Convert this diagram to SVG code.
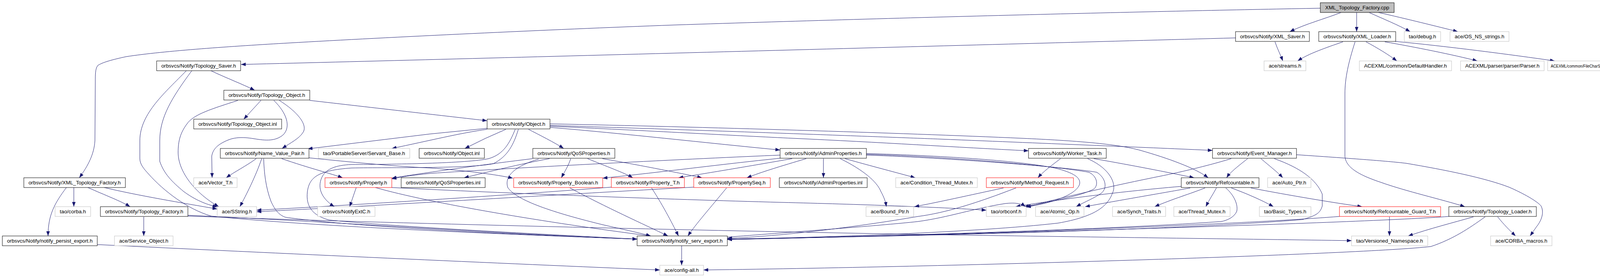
<svg xmlns="http://www.w3.org/2000/svg" width="4221" height="709" viewBox="0 0 4221 709">
<style>
.node rect{fill:#fff;stroke:#000;stroke-width:1}
.node.g rect{stroke:#bfbfbf}
.node.r rect{stroke:#f00}
.node.root rect{fill:#bfbfbf}
.node text{font-family:"Liberation Sans",Arial,sans-serif;font-size:13px;text-anchor:middle;fill:#000}
.node text.ls{text-anchor:start;font-size:11.5px}
#edges path{fill:none;stroke:#191970;stroke-width:1;marker-end:url(#arr)}
</style>
<defs>
<marker id="arr" markerUnits="userSpaceOnUse" markerWidth="12" markerHeight="9" refX="12" refY="4.5" orient="auto"><path d="M0,0 L12,4.5 L0,9 z" fill="#191970"/></marker>
</defs>
<rect width="4221" height="709" fill="#fff"/>
<g id="edges">
<path d="M3380,21 C3000,28 2400,42 1725,64 C1400,76 1000,95 740,110 C600,118 420,130 323,145 C290,152 260,160 250,168 C244,176 244,190 244,210 L243,360 C241,395 225,425 203,455"/>
<path d="M3433,32 C3395,47 3340,62 3302,81"/>
<path d="M3473,32 L3473,81"/>
<path d="M3505,32 C3540,48 3580,64 3610,81"/>
<path d="M3529,32 C3600,48 3680,68 3732,81"/>
<path d="M3163,97 C2500,115 1300,148 617,165"/>
<path d="M3264,107 C3270,125 3278,140 3284,156"/>
<path d="M3438,107 C3395,122 3350,137 3322,156"/>
<path d="M3497,107 C3525,122 3555,140 3576,156"/>
<path d="M3545,107 C3620,120 3720,140 3782,156"/>
<path d="M3572,106 C3700,118 3870,140 3980,156"/>
<path d="M3469,107 C3452,160 3443,200 3443,240 L3443,400 C3445,425 3470,445 3533,466 C3600,490 3690,510 3750,529"/>
<path d="M540,181 C580,200 620,215 652,231"/>
<path d="M477,181 C425,235 358,290 358,360 L358,406 C358,420 368,432 380,445 C420,490 480,535 540,553 C800,580 1300,600 1631,612"/>
<path d="M491,181 C440,250 409,300 409,360 L409,413 C420,445 440,465 470,490 C500,512 525,522 556,530"/>
<path d="M609,257 C545,278 495,292 478,318 C462,340 456,360 456,390 C456,440 500,495 560,529"/>
<path d="M668,257 L624,305"/>
<path d="M701,257 C735,290 745,325 725,345 C705,362 680,360 650,355 C620,350 600,352 585,358 C560,368 545,380 542,400 L543,455"/>
<path d="M715,257 C760,285 790,320 775,340 C765,355 745,365 722,380"/>
<path d="M793,257 C950,275 1150,298 1247,309"/>
<path d="M1251,328 L1100,343 L788,381"/>
<path d="M1247,331 C1180,340 1100,360 1003,380"/>
<path d="M1295,331 L1243,354 L1190,380"/>
<path d="M1353,331 C1380,345 1420,365 1443,380"/>
<path d="M1319,331 C1305,365 1290,395 1251,406 C1200,418 1000,421 900,421 C858,423 838,432 826,450 C812,475 818,505 856,529"/>
<path d="M1327,331 C1315,370 1300,400 1263,419 C1200,432 1000,428 900,430 C812,436 792,455 787,490 C782,530 802,552 842,563 C1000,580 1400,600 1631,612"/>
<path d="M1408,326 C1600,342 1800,365 1997,384"/>
<path d="M1408,323 C1650,334 1900,348 2030,354 C2250,364 2450,377 2633,386"/>
<path d="M1408,321 C1800,333 2300,352 2406,356 C2700,368 2950,378 3104,385"/>
<path d="M1408,317 C1800,325 2300,340 2617,354 C2750,360 2860,368 2920,385 C2990,405 3060,430 3093,455"/>
<path d="M2800,406 C2880,420 2960,435 3057,455"/>
<path d="M2715,406 C2690,425 2670,440 2657,455"/>
<path d="M2784,406 C2840,430 2860,470 2848,494 C2835,530 2800,555 2709,571 C2500,595 2100,608 1862,612"/>
<path d="M1997,397 C1800,405 1300,430 1100,444 C1060,448 1030,452 1003,458"/>
<path d="M1997,405 C1850,420 1700,440 1543,456"/>
<path d="M2028,406 C1920,425 1800,445 1737,455"/>
<path d="M2064,406 C2000,425 1950,440 1912,455"/>
<path d="M2108,406 L2108,455"/>
<path d="M2151,406 C2210,435 2245,465 2255,490 C2263,505 2267,515 2269,529"/>
<path d="M2163,406 C2230,425 2300,443 2343,455"/>
<path d="M2218,393 C2400,398 2600,410 2700,430 C2750,442 2766,455 2764,470 C2760,490 2720,515 2627,530"/>
<path d="M2218,395 C2450,402 2700,425 2788,441 C2810,452 2812,475 2800,484 C2770,500 2700,515 2622,529"/>
<path d="M2218,397 C2450,405 2750,430 2808,441 C2830,455 2836,480 2820,494 C2800,508 2780,515 2755,529"/>
<path d="M3194,406 C3170,425 3150,440 3140,455"/>
<path d="M3228,406 C3250,425 3270,440 3284,455"/>
<path d="M3262,406 C3330,430 3370,460 3385,497 L3385,527 C3380,545 3370,552 3334,562 C3000,590 2300,605 1862,612"/>
<path d="M3152,406 C3080,428 3000,445 2975,450 C2850,475 2720,505 2627,530"/>
<path d="M3319,396 C3450,405 3550,412 3600,418 C3700,435 3800,455 3863,479 C3900,495 3935,515 3945,527 C3952,540 3950,560 3933,581 L3917,604"/>
<path d="M3047,481 C3000,490 2880,510 2778,529"/>
<path d="M3024,477 C2850,492 2700,512 2600,529"/>
<path d="M3085,481 C3050,495 3000,510 2956,529"/>
<path d="M3114,481 C3105,498 3095,512 3087,529"/>
<path d="M3138,481 C3160,500 3170,525 3166,541 C3160,556 3140,565 3126,567 C2800,590 2200,606 1862,612"/>
<path d="M3152,481 C3190,495 3230,512 3260,529"/>
<path d="M3202,481 C3300,500 3420,520 3487,529"/>
<path d="M3557,555 L3557,604"/>
<path d="M3429,554 C3100,580 2300,605 1862,613"/>
<path d="M3772,555 C3720,570 3660,585 3605,604"/>
<path d="M3802,555 C3760,585 3720,612 3663,631 C3500,650 2500,682 1801,691"/>
<path d="M3834,555 C3850,575 3865,590 3880,604"/>
<path d="M3709,554 C3500,570 2500,600 1862,613"/>
<path d="M2569,481 C2480,500 2400,518 2341,529"/>
<path d="M2601,481 C2500,520 2420,545 2350,554 C2200,580 2000,605 1862,610"/>
<path d="M1862,607 C2000,596 2250,578 2350,567 C2430,556 2490,534 2573,521 C2600,518 2615,521 2625,529"/>
<path d="M912,480 C905,500 900,515 895,529"/>
<path d="M961,480 C1100,520 1400,570 1666,604"/>
<path d="M1003,480 C1300,495 1700,510 2000,518 C2200,523 2400,530 2525,538"/>
<path d="M1459,481 C1550,530 1650,575 1710,604"/>
<path d="M1668,481 C1700,530 1725,580 1737,604"/>
<path d="M1565,479 C1300,500 900,525 657,538"/>
<path d="M1776,479 C1400,500 900,530 657,542"/>
<path d="M1860,481 C1820,530 1780,575 1761,604"/>
<path d="M1407,406 C1330,420 1250,440 1188,455"/>
<path d="M1461,406 C1455,425 1445,440 1437,455"/>
<path d="M1504,406 C1550,425 1600,443 1620,455"/>
<path d="M1542,406 C1650,425 1750,445 1797,455"/>
<path d="M1364,406 C1250,420 1100,440 1003,456"/>
<path d="M1379,407 C1320,425 1290,450 1300,480 C1320,510 1400,540 1538,574 C1580,584 1630,594 1666,604"/>
<path d="M656,406 C630,425 600,440 579,455"/>
<path d="M670,406 C655,450 630,500 614,529"/>
<path d="M675,406 C676,440 680,480 694,516 C705,540 715,550 730,556 C900,580 1300,600 1631,612"/>
<path d="M721,406 C790,430 850,445 877,455"/>
<path d="M791,404 C900,415 1000,425 1100,430 C1200,437 1270,447 1313,456"/>
<path d="M170,480 C140,520 123,550 123,604"/>
<path d="M189,480 L189,529"/>
<path d="M225,480 C270,500 310,515 333,529"/>
<path d="M267,480 C350,500 470,520 556,535"/>
<path d="M368,555 L368,604"/>
<path d="M481,551 C900,570 1300,600 1631,612"/>
<path d="M481,553 C1000,572 1800,590 2350,600 C2800,607 3200,612 3460,616"/>
<path d="M249,626 C700,648 1300,675 1689,691"/>
<path d="M1745,629 L1745,679"/>
</g>
<g id="n-cpp" class="node root"><rect x="3380" y="7" width="189" height="25"/><text x="3474.5" y="24" textLength="164" lengthAdjust="spacingAndGlyphs">XML_Topology_Factory.cpp</text></g>
<g id="n-xmlsaver" class="node"><rect x="3163" y="81" width="189" height="25"/><text x="3257.5" y="98" textLength="166" lengthAdjust="spacingAndGlyphs">orbsvcs/Notify/XML_Saver.h</text></g>
<g id="n-xmlloader" class="node"><rect x="3376" y="81" width="197" height="25"/><text x="3474.5" y="98" textLength="173" lengthAdjust="spacingAndGlyphs">orbsvcs/Notify/XML_Loader.h</text></g>
<g id="n-debug" class="node g"><rect x="3595" y="81" width="93" height="25"/><text x="3641.5" y="98" textLength="70" lengthAdjust="spacingAndGlyphs">tao/debug.h</text></g>
<g id="n-osns" class="node g"><rect x="3712" y="81" width="151" height="25"/><text x="3787.5" y="98" textLength="127" lengthAdjust="spacingAndGlyphs">ace/OS_NS_strings.h</text></g>
<g id="n-toposaver" class="node"><rect x="401" y="156" width="215" height="25"/><text x="508.5" y="173" textLength="191" lengthAdjust="spacingAndGlyphs">orbsvcs/Notify/Topology_Saver.h</text></g>
<g id="n-streams" class="node g"><rect x="3236" y="156" width="107" height="25"/><text x="3289.5" y="173" textLength="83" lengthAdjust="spacingAndGlyphs">ace/streams.h</text></g>
<g id="n-defhandler" class="node g"><rect x="3480" y="156" width="236" height="25"/><text x="3598" y="173" textLength="212" lengthAdjust="spacingAndGlyphs">ACEXML/common/DefaultHandler.h</text></g>
<g id="n-parser" class="node g"><rect x="3739" y="156" width="214" height="25"/><text x="3846" y="173" textLength="190" lengthAdjust="spacingAndGlyphs">ACEXML/parser/parser/Parser.h</text></g>
<g id="n-filechar" class="node g"><rect x="3962" y="156" width="190" height="25"/><text class="ls" x="3970" y="173" textLength="160" lengthAdjust="spacingAndGlyphs">ACEXML/common/FileCharStream.h</text></g>
<g id="n-topoobj" class="node"><rect x="573" y="231" width="220" height="25"/><text x="683" y="248" textLength="196" lengthAdjust="spacingAndGlyphs">orbsvcs/Notify/Topology_Object.h</text></g>
<g id="n-topoobjinl" class="node"><rect x="496" y="305" width="225" height="25"/><text x="608.5" y="322" textLength="201" lengthAdjust="spacingAndGlyphs">orbsvcs/Notify/Topology_Object.inl</text></g>
<g id="n-object" class="node"><rect x="1247" y="305" width="161" height="25"/><text x="1327.5" y="322" textLength="137" lengthAdjust="spacingAndGlyphs">orbsvcs/Notify/Object.h</text></g>
<g id="n-nvp" class="node"><rect x="564" y="380" width="227" height="25"/><text x="677.5" y="397" textLength="203" lengthAdjust="spacingAndGlyphs">orbsvcs/Notify/Name_Value_Pair.h</text></g>
<g id="n-servant" class="node g"><rect x="815" y="380" width="234" height="25"/><text x="932" y="397" textLength="210" lengthAdjust="spacingAndGlyphs">tao/PortableServer/Servant_Base.h</text></g>
<g id="n-objinl" class="node"><rect x="1073" y="380" width="167" height="25"/><text x="1156.5" y="397" textLength="143" lengthAdjust="spacingAndGlyphs">orbsvcs/Notify/Object.inl</text></g>
<g id="n-qosprop" class="node"><rect x="1364" y="380" width="210" height="25"/><text x="1469" y="397" textLength="186" lengthAdjust="spacingAndGlyphs">orbsvcs/Notify/QoSProperties.h</text></g>
<g id="n-adminprop" class="node"><rect x="1997" y="380" width="221" height="25"/><text x="2107.5" y="397" textLength="197" lengthAdjust="spacingAndGlyphs">orbsvcs/Notify/AdminProperties.h</text></g>
<g id="n-worker" class="node"><rect x="2633" y="380" width="199" height="25"/><text x="2732.5" y="397" textLength="175" lengthAdjust="spacingAndGlyphs">orbsvcs/Notify/Worker_Task.h</text></g>
<g id="n-eventmgr" class="node"><rect x="3104" y="380" width="215" height="25"/><text x="3211.5" y="397" textLength="191" lengthAdjust="spacingAndGlyphs">orbsvcs/Notify/Event_Manager.h</text></g>
<g id="n-xmltopofact" class="node"><rect x="61" y="455" width="260" height="25"/><text x="191" y="472" textLength="236" lengthAdjust="spacingAndGlyphs">orbsvcs/Notify/XML_Topology_Factory.h</text></g>
<g id="n-vector" class="node g"><rect x="496" y="455" width="111" height="25"/><text x="551.5" y="472" textLength="87" lengthAdjust="spacingAndGlyphs">ace/Vector_T.h</text></g>
<g id="n-property" class="node r"><rect x="832" y="455" width="171" height="25"/><text x="917.5" y="472" textLength="147" lengthAdjust="spacingAndGlyphs">orbsvcs/Notify/Property.h</text></g>
<g id="n-qosinl" class="node"><rect x="1027" y="455" width="215" height="25"/><text x="1134.5" y="472" textLength="191" lengthAdjust="spacingAndGlyphs">orbsvcs/Notify/QoSProperties.inl</text></g>
<g id="n-propbool" class="node r"><rect x="1315" y="455" width="228" height="25"/><text x="1429" y="472" textLength="204" lengthAdjust="spacingAndGlyphs">orbsvcs/Notify/Property_Boolean.h</text></g>
<g id="n-propT" class="node r"><rect x="1565" y="455" width="187" height="25"/><text x="1658.5" y="472" textLength="163" lengthAdjust="spacingAndGlyphs">orbsvcs/Notify/Property_T.h</text></g>
<g id="n-propseq" class="node r"><rect x="1776" y="455" width="196" height="25"/><text x="1874" y="472" textLength="172" lengthAdjust="spacingAndGlyphs">orbsvcs/Notify/PropertySeq.h</text></g>
<g id="n-admininl" class="node"><rect x="1995" y="455" width="225" height="25"/><text x="2107.5" y="472" textLength="201" lengthAdjust="spacingAndGlyphs">orbsvcs/Notify/AdminProperties.inl</text></g>
<g id="n-condmutex" class="node g"><rect x="2293" y="455" width="209" height="25"/><text x="2397.5" y="472" textLength="185" lengthAdjust="spacingAndGlyphs">ace/Condition_Thread_Mutex.h</text></g>
<g id="n-methodreq" class="node r"><rect x="2525" y="455" width="223" height="25"/><text x="2636.5" y="472" textLength="199" lengthAdjust="spacingAndGlyphs">orbsvcs/Notify/Method_Request.h</text></g>
<g id="n-refcount" class="node"><rect x="3024" y="455" width="199" height="25"/><text x="3123.5" y="472" textLength="175" lengthAdjust="spacingAndGlyphs">orbsvcs/Notify/Refcountable.h</text></g>
<g id="n-autoptr" class="node g"><rect x="3245" y="455" width="111" height="25"/><text x="3300.5" y="472" textLength="87" lengthAdjust="spacingAndGlyphs">ace/Auto_Ptr.h</text></g>
<g id="n-corba" class="node g"><rect x="141" y="529" width="91" height="25"/><text x="186.5" y="546" textLength="67" lengthAdjust="spacingAndGlyphs">tao/corba.h</text></g>
<g id="n-topofact" class="node"><rect x="257" y="529" width="224" height="25"/><text x="369" y="546" textLength="200" lengthAdjust="spacingAndGlyphs">orbsvcs/Notify/Topology_Factory.h</text></g>
<g id="n-sstring" class="node g"><rect x="556" y="529" width="101" height="25"/><text x="606.5" y="546" textLength="77" lengthAdjust="spacingAndGlyphs">ace/SString.h</text></g>
<g id="n-extc" class="node g"><rect x="813" y="529" width="147" height="25"/><text x="886.5" y="546" textLength="123" lengthAdjust="spacingAndGlyphs">orbsvcs/NotifyExtC.h</text></g>
<g id="n-boundptr" class="node g"><rect x="2217" y="529" width="122" height="25"/><text x="2278" y="546" textLength="98" lengthAdjust="spacingAndGlyphs">ace/Bound_Ptr.h</text></g>
<g id="n-orbconf" class="node g"><rect x="2525" y="529" width="102" height="25"/><text x="2576" y="546" textLength="78" lengthAdjust="spacingAndGlyphs">tao/orbconf.h</text></g>
<g id="n-atomic" class="node g"><rect x="2651" y="529" width="124" height="25"/><text x="2713" y="546" textLength="100" lengthAdjust="spacingAndGlyphs">ace/Atomic_Op.h</text></g>
<g id="n-synch" class="node g"><rect x="2848" y="529" width="136" height="25"/><text x="2916" y="546" textLength="112" lengthAdjust="spacingAndGlyphs">ace/Synch_Traits.h</text></g>
<g id="n-threadmutex" class="node g"><rect x="3005" y="529" width="144" height="25"/><text x="3077" y="546" textLength="120" lengthAdjust="spacingAndGlyphs">ace/Thread_Mutex.h</text></g>
<g id="n-basictypes" class="node g"><rect x="3224" y="529" width="132" height="25"/><text x="3290" y="546" textLength="108" lengthAdjust="spacingAndGlyphs">tao/Basic_Types.h</text></g>
<g id="n-guard" class="node r"><rect x="3429" y="529" width="259" height="25"/><text x="3558.5" y="546" textLength="235" lengthAdjust="spacingAndGlyphs">orbsvcs/Notify/Refcountable_Guard_T.h</text></g>
<g id="n-topoloader" class="node"><rect x="3709" y="529" width="224" height="25"/><text x="3821" y="546" textLength="200" lengthAdjust="spacingAndGlyphs">orbsvcs/Notify/Topology_Loader.h</text></g>
<g id="n-persist" class="node"><rect x="6" y="604" width="243" height="25"/><text x="127.5" y="621" textLength="219" lengthAdjust="spacingAndGlyphs">orbsvcs/Notify/notify_persist_export.h</text></g>
<g id="n-serviceobj" class="node g"><rect x="293" y="604" width="150" height="25"/><text x="368" y="621" textLength="126" lengthAdjust="spacingAndGlyphs">ace/Service_Object.h</text></g>
<g id="n-servexport" class="node"><rect x="1631" y="604" width="231" height="25"/><text x="1746.5" y="621" textLength="207" lengthAdjust="spacingAndGlyphs">orbsvcs/Notify/notify_serv_export.h</text></g>
<g id="n-versioned" class="node g"><rect x="3460" y="604" width="195" height="25"/><text x="3557.5" y="621" textLength="171" lengthAdjust="spacingAndGlyphs">tao/Versioned_Namespace.h</text></g>
<g id="n-corbamacros" class="node g"><rect x="3816" y="604" width="157" height="25"/><text x="3894.5" y="621" textLength="133" lengthAdjust="spacingAndGlyphs">ace/CORBA_macros.h</text></g>
<g id="n-configall" class="node g"><rect x="1689" y="679" width="112" height="25"/><text x="1745" y="696" textLength="88" lengthAdjust="spacingAndGlyphs">ace/config-all.h</text></g>
</svg>
